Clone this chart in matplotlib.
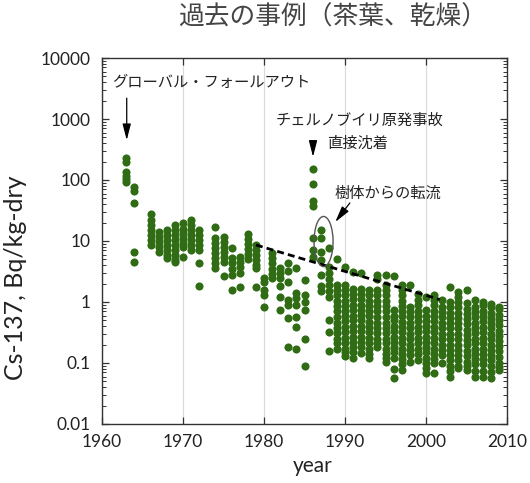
import matplotlib
matplotlib.use("Agg")
import matplotlib.pyplot as plt
from matplotlib.patches import Ellipse
from matplotlib.ticker import LogLocator, FixedLocator, NullFormatter
import numpy as np

# Cs-137 in dried tea leaves (Bq/kg-dry), one list of samples per year
fallout = {
    1963: [230, 200, 134, 117, 104, 92],
    1964: [78, 67, 42, 6.5, 4.6],
    1966: [28, 22, 18, 15, 12.6, 10.4, 8.6],
    1967: [14, 11.7, 9.7, 8.0, 6.7],
    1968: [15, 12.6, 10.4, 8.6, 7.1, 5.9, 5.3],
    1969: [18, 15, 12.6, 10.4, 8.6, 7.1, 5.9, 4.9, 4.5],
    1970: [19.5, 16, 13.5, 11.2, 9.3, 8.0, 5.5],
    1971: [22, 18, 15, 12.6, 10.4, 8.6, 7.1],
    1972: [15, 12.6, 10.4, 8.6, 7.1, 4.3, 1.8],
    1974: [17, 11, 9.2, 7.6, 6.3, 5.3, 4.4, 3.6],
    1975: [11.7, 9.7, 8.0, 6.7, 5.5, 4.6, 2.7],
    1976: [7.6, 5.2, 4.3, 3.5, 2.8, 1.6],
    1977: [5.5, 4.6, 3.8, 3.0, 1.75],
    1978: [13, 10.8, 9.0, 7.4, 6.2, 5.1],
    1979: [8.6, 7.1, 5.9, 4.9, 4.0, 3.6, 1.75],
    1980: [2.5, 2.1, 1.6, 1.3, 0.83],
    1981: [6.3, 5.2, 4.3, 3.5, 2.9, 2.5],
    1982: [3.6, 3.0, 2.5, 1.8, 1.2, 0.74],
    1983: [4.3, 3.2, 2.15, 1.07, 0.9, 0.54, 0.18],
    1984: [3.6, 1.4, 1.15, 0.9, 0.57, 0.39, 0.17],
    1985: [2.3, 1.3, 1.0, 0.74, 0.25, 0.09],
}

chernobyl = {
    1986: [150, 85, 45, 38, 11, 7.1, 5.5],
    1987: [15, 11, 6.7, 4.9, 2.8, 1.8, 1.5],
    1988: [7.6, 3.8, 3.0, 2.4, 1.9, 1.5, 1.2, 0.51, 0.32, 0.16],
}

recent = {
    1989: [5.0, 1.9, 1.55, 1.28, 1.05, 0.85, 0.7, 0.57, 0.46, 0.38, 0.31, 0.25, 0.21, 0.17],
    1990: [3.7, 1.9, 1.6, 1.3, 1.05, 0.87, 0.72, 0.58, 0.48, 0.39, 0.32, 0.26, 0.21, 0.17, 0.15, 0.13],
    1991: [3.1, 1.65, 1.35, 1.1, 0.9, 0.74, 0.6, 0.5, 0.41, 0.33, 0.27, 0.22, 0.18, 0.15, 0.12],
    1992: [3.0, 1.65, 1.35, 1.1, 0.9, 0.75, 0.61, 0.5, 0.4, 0.33, 0.27, 0.22, 0.18, 0.145],
    1993: [1.55, 1.3, 1.05, 0.87, 0.7, 0.58, 0.47, 0.39, 0.32, 0.26, 0.21, 0.17, 0.14, 0.12],
    1994: [2.8, 2.4, 1.55, 1.28, 1.05, 0.85, 0.7, 0.57, 0.46, 0.38, 0.31, 0.25, 0.21, 0.185],
    1995: [2.8, 1.9, 1.55, 1.28, 1.05, 0.85, 0.7, 0.57, 0.46, 0.38, 0.31, 0.25, 0.21, 0.17, 0.14, 0.12, 0.105],
    1996: [2.7, 0.74, 0.6, 0.5, 0.41, 0.33, 0.27, 0.22, 0.18, 0.15, 0.12, 0.08, 0.056],
    1997: [1.9, 1.6, 1.3, 1.05, 0.87, 0.7, 0.58, 0.47, 0.39, 0.32, 0.26, 0.21, 0.17, 0.14, 0.115, 0.095, 0.077],
    1998: [1.9, 0.84, 0.68, 0.56, 0.46, 0.37, 0.3, 0.25, 0.2, 0.165, 0.135, 0.105],
    1999: [1.35, 1.08, 0.88, 0.72, 0.59, 0.48, 0.39, 0.32, 0.26, 0.21, 0.17, 0.14, 0.11],
    2000: [1.22, 0.74, 0.6, 0.49, 0.4, 0.33, 0.27, 0.22, 0.18, 0.15, 0.12, 0.1, 0.082, 0.068],
    2001: [1.3, 1.08, 0.88, 0.72, 0.59, 0.48, 0.39, 0.32, 0.26, 0.21, 0.17, 0.14, 0.115, 0.1, 0.068],
    2002: [1.08, 0.84, 0.68, 0.56, 0.46, 0.37, 0.3, 0.25, 0.2, 0.165, 0.135, 0.1],
    2003: [1.75, 1.0, 0.82, 0.67, 0.55, 0.45, 0.37, 0.3, 0.25, 0.2, 0.165, 0.135, 0.11, 0.09, 0.073, 0.06],
    2004: [1.45, 1.22, 1.0, 0.82, 0.67, 0.55, 0.45, 0.37, 0.3, 0.25, 0.2, 0.165, 0.135, 0.11, 0.09, 0.082],
    2005: [1.57, 0.95, 0.78, 0.64, 0.52, 0.43, 0.35, 0.29, 0.24, 0.195, 0.16, 0.13, 0.105, 0.088, 0.077],
    2006: [1.08, 0.84, 0.69, 0.56, 0.46, 0.38, 0.31, 0.25, 0.21, 0.17, 0.14, 0.115, 0.095, 0.075, 0.06],
    2007: [1.0, 0.88, 0.72, 0.59, 0.48, 0.39, 0.32, 0.26, 0.21, 0.17, 0.14, 0.115, 0.095, 0.075, 0.06],
    2008: [0.93, 0.82, 0.67, 0.55, 0.45, 0.37, 0.3, 0.25, 0.2, 0.165, 0.135, 0.11, 0.09, 0.072, 0.057],
    2009: [0.84, 0.76, 0.62, 0.51, 0.42, 0.34, 0.28, 0.23, 0.19, 0.155, 0.125, 0.1, 0.085, 0.077],
}

# exponential decay trend drawn after Chernobyl
trend_years = [1979, 2001.7]
trend_values = [8.6, 1.1]

x_ticks = [1960, 1970, 1980, 1990, 2000, 2010]
y_ticks = [0.01, 0.1, 1, 10, 100, 1000, 10000]
y_labels = ["0.01", "0.1", "1", "10", "100", "1000", "10000"]

jp = ["Noto Sans CJK JP", "DejaVu Sans"]
green = "#2f6c13"

fig = plt.figure(figsize=(5.3, 4.83), dpi=100)
ax = fig.add_axes([0.1925, 0.1222, 0.7641, 0.7577])

for group in (fallout, chernobyl, recent):
    for yr, vals in group.items():
        ax.scatter([yr] * len(vals), vals, s=34, color=green, linewidths=0, zorder=3)

ax.plot(trend_years, trend_values, color="black", ls=(0, (2.5, 1.5)), lw=2, zorder=4)

ax.set_yscale("log")
ax.set_xlim(1960, 2010)
ax.set_ylim(0.01, 10000)

ax.xaxis.set_major_locator(FixedLocator(x_ticks))
ax.yaxis.set_major_locator(FixedLocator(y_ticks))
ax.set_yticklabels(y_labels)
ax.yaxis.set_minor_locator(LogLocator(base=10, subs=np.arange(2, 10), numticks=20))
ax.yaxis.set_minor_formatter(NullFormatter())

for lab in ax.get_xticklabels() + ax.get_yticklabels():
    lab.set_fontfamily("Lato")
    lab.set_fontsize(12.5)
    lab.set_color("#222222")

ax.tick_params(which="both", direction="in", top=True, right=True, color="#333333")
ax.tick_params(which="major", length=5, width=0.9)
ax.tick_params(which="minor", length=3, width=0.7)
ax.tick_params(axis="x", pad=7)
ax.tick_params(axis="y", pad=8)

for sp in ax.spines.values():
    sp.set_color("#333333")
    sp.set_linewidth(1)

ax.grid(axis="x", color="#d9d9d9", lw=0.8, zorder=0)
ax.set_axisbelow(True)

ax.set_xlabel("year", fontfamily="Lato", fontsize=15, color="#222222")
ax.xaxis.set_label_coords(0.52, -0.088)
ax.set_ylabel("Cs-137, Bq/kg-dry", fontfamily="Lato", fontsize=18, color="#222222")
ax.yaxis.set_label_coords(-0.185, 0.4)

fig.text(0.628, 0.964, "過去の事例（茶葉、乾燥）", family=jp, fontsize=18.5,
         color="#444444", ha="center", va="center")

arrow = dict(arrowstyle="-|>,head_length=0.7,head_width=0.18", color="black",
             lw=0.9, mutation_scale=14, shrinkA=0, shrinkB=0)

# global fallout
ax.text(1961.3, 3900, "グローバル・フォールアウト", family=jp, fontsize=11,
        ha="left", va="center", color="#222222")
ax.annotate("", xy=(1963.05, 450), xytext=(1963.05, 2200), arrowprops=arrow)

# Chernobyl deposition
ax.text(1991.85, 940, "チェルノブイリ原発事故", family=jp, fontsize=11,
        ha="center", va="center", color="#222222")
ax.text(1991.6, 405, "直接沈着", family=jp, fontsize=11,
        ha="center", va="center", color="#222222")
ax.annotate("", xy=(1986.05, 240), xytext=(1986.05, 370), arrowprops=arrow)

# translocation from tree body
ax.text(1995.3, 61, "樹体からの転流", family=jp, fontsize=11,
        ha="center", va="center", color="#222222")
ax.annotate("", xy=(1988.8, 20.5), xytext=(1990.6, 42), arrowprops=arrow)

to_axes = ax.transData + ax.transAxes.inverted()
cx, cy = to_axes.transform((1987.35, 9.8))
ax.add_patch(Ellipse((cx, cy), 0.047, 0.137, transform=ax.transAxes,
                     fill=False, edgecolor="#555555", lw=1, zorder=5))

fig.savefig("out.png", dpi=100)
